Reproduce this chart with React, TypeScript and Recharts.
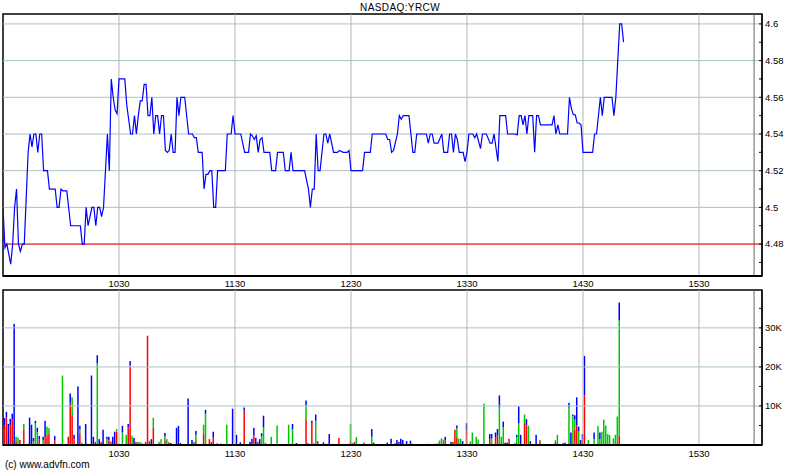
import {
  LineChart,
  Line,
  BarChart,
  Bar,
  XAxis,
  YAxis,
  ReferenceLine,
  ReferenceArea,
} from "recharts";

// x values are minutes after 09:30
const timeTicks = [60, 120, 180, 240, 300, 360];
const timeLabels = ["1030", "1130", "1230", "1330", "1430", "1530"];
const dayEnd = 388.5;
const xMax = 392.6;

const priceTicks = [4.47, 4.48, 4.49, 4.5, 4.51, 4.52, 4.53, 4.54, 4.55, 4.56, 4.57, 4.58, 4.59, 4.6];
const priceGrid = [4.48, 4.5, 4.52, 4.54, 4.56, 4.58, 4.6];
const prevClose = 4.48;

const priceTimes = [
  0, 1, 2, 4, 5, 6, 7, 8, 9, 10, 11, 13, 14, 15, 16, 17, 18, 19, 20, 21, 23, 24, 27, 28, 29, 30, 31, 33, 35, 40,
  41, 42, 43, 44, 46, 47, 48, 49, 50, 51, 52, 53, 54, 55, 56, 57, 58, 59, 60, 63, 64, 66, 67, 68, 69, 70, 71, 72,
  73, 74, 75, 76, 77, 78, 79, 80, 81, 82, 83, 84, 85, 86, 87, 88, 89, 90, 91, 92, 94, 96, 98, 99, 100, 101, 103,
  104, 105, 106, 107, 108, 109, 110, 111, 115, 116, 118, 119, 120, 123, 125, 127, 128, 129, 130, 131, 132, 133,
  134, 135, 138, 139, 141, 142, 145, 146, 148, 149, 150, 156, 158, 159, 160, 161, 162, 163, 164, 166, 167, 168,
  169, 171, 173, 174, 176, 178, 179, 180, 186, 187, 190, 191, 198, 199, 200, 201, 202, 204, 205, 206, 207, 210,
  211, 212, 213, 214, 219, 220, 221, 222, 223, 225, 227, 228, 230, 231, 232, 233, 234, 235, 236, 238, 239, 240,
  241, 243, 244, 245, 247, 248, 250, 252, 253, 254, 256, 257, 260, 261, 265, 266, 267, 268, 269, 270, 271, 272,
  274, 275, 276, 277, 278, 284, 285, 286, 287, 288, 292, 293, 294, 295, 296, 297, 298, 299, 300, 305, 306, 307,
  309, 310, 311, 315, 316, 317, 318, 319, 320, 321,
];
const priceValues = [
  4.5, 4.478, 4.48, 4.469, 4.48, 4.5, 4.51, 4.48, 4.476, 4.48, 4.48, 4.53, 4.54, 4.533, 4.54, 4.54, 4.53, 4.54,
  4.54, 4.52, 4.52, 4.51, 4.51, 4.5, 4.5, 4.51, 4.509, 4.509, 4.49, 4.49,
  4.48, 4.48, 4.5, 4.49, 4.5, 4.5, 4.49, 4.5, 4.5, 4.495, 4.5, 4.52, 4.54, 4.52, 4.57, 4.56, 4.553, 4.551, 4.57,
  4.57, 4.556, 4.54, 4.54, 4.55, 4.54, 4.55, 4.558, 4.558,
  4.567, 4.567, 4.55, 4.55, 4.56, 4.54, 4.55, 4.55, 4.54, 4.55, 4.55, 4.531, 4.53, 4.531, 4.54, 4.53, 4.53, 4.56,
  4.55, 4.56, 4.56, 4.54, 4.54, 4.538, 4.538, 4.53, 4.53,
  4.51, 4.518, 4.518, 4.52, 4.52, 4.5, 4.5, 4.52, 4.52, 4.54, 4.54, 4.55, 4.54, 4.54, 4.53, 4.53, 4.54, 4.539,
  4.537, 4.539, 4.53, 4.537,
  4.538, 4.53, 4.53, 4.52, 4.52, 4.53, 4.53, 4.52, 4.52, 4.53, 4.52, 4.52, 4.51, 4.5, 4.51, 4.51, 4.54, 4.52,
  4.52, 4.54, 4.54, 4.535,
  4.54, 4.53, 4.53, 4.531, 4.53, 4.53, 4.531, 4.52, 4.52, 4.53, 4.53, 4.54, 4.54, 4.537, 4.537, 4.53, 4.531, 4.54,
  4.55, 4.548, 4.55, 4.55,
  4.54, 4.53, 4.53, 4.54, 4.54, 4.535, 4.54, 4.54, 4.535, 4.535, 4.54, 4.53, 4.53, 4.54, 4.54, 4.53, 4.54, 4.537,
  4.53, 4.53, 4.525, 4.53,
  4.54, 4.54, 4.538, 4.54, 4.532, 4.54, 4.54, 4.535, 4.535, 4.54, 4.525, 4.55, 4.55, 4.54, 4.54, 4.5395, 4.55,
  4.55, 4.545, 4.55, 4.54, 4.55,
  4.55, 4.53, 4.55, 4.55, 4.545, 4.545, 4.55, 4.54, 4.545, 4.54, 4.54, 4.56, 4.554, 4.5505, 4.5505, 4.546, 4.546,
  4.545, 4.53, 4.53, 4.54, 4.54,
  4.56, 4.55, 4.56, 4.56, 4.55, 4.56, 4.58, 4.6, 4.6, 4.59,
];

// volume in thousands, split into red / green / blue parts
const volTicks = [5, 10, 15, 20, 25, 30, 35];
const volGrid = [10, 20, 30];
const volMax = 39.7;

const volTimes = [
  0, 1, 2, 3, 4, 5, 6, 7, 8, 9, 11, 13, 14, 15, 16, 17, 18, 19, 21, 22, 23, 24, 27, 29, 30, 31, 34, 35, 36, 37,
  39, 40, 41, 43, 44, 46, 47, 48, 49, 50, 51, 52, 54, 55, 56, 57, 58, 59, 60, 62, 64, 65, 66, 67, 68, 69, 70, 71,
  72, 73, 74, 75, 76, 77, 78, 81, 82, 84, 85, 86, 87, 90, 91, 92, 96, 98, 99, 100, 104, 105, 107, 108, 109, 111,
  113, 116, 119, 121, 123, 125, 128, 129, 130, 131, 132, 133, 134, 135, 136, 139, 140, 142, 146, 148, 150, 152,
  157, 158, 160, 161, 162, 163, 166, 168, 169, 171, 174, 179, 180, 181, 182, 183, 187, 191, 192, 199, 201, 203,
  204, 205, 206, 207, 209, 211, 212, 219, 220, 223, 224, 225, 226, 227, 228, 229, 232, 233, 234, 235, 236, 237,
  238, 240, 242, 243, 245, 246, 249, 252, 253, 255, 256, 257, 258, 259, 260, 261, 262, 265, 266, 267, 268, 269,
  270, 271, 272, 273, 276, 278, 286, 287, 288, 290, 291, 293, 294, 295, 296, 297, 298, 299, 300, 301, 303, 306,
  308, 309, 310, 311, 312, 313, 314, 316, 317, 318, 319,
];
const volRed = [
  0, 5, 7, 0, 5, 6.5, 0, 1, 0, 1.3, 4, 0.3, 0, 0, 0, 0, 0, 1.5, 0, 2, 2.5, 3, 1.2, 0, 0, 0, 2.1, 10.8, 7.7, 1.5,
  0, 3, 0, 0, 0, 0, 0, 0.8, 0, 0, 0.8, 0, 0, 1.2, 0.9, 0, 0, 3.4, 0, 0, 0, 4.5, 20.4, 0, 0, 0.8, 0, 0,
  0, 0, 0.8, 28, 0.8, 0, 4.5, 0, 0, 1.2, 0, 0.7, 0, 0, 0, 0, 0, 0, 0, 1, 3, 0, 1.5, 0.8, 2, 0,
  0, 0, 0, 0, 0, 8.8, 0, 0, 2.5, 0, 0.8, 0, 0, 0, 0, 0, 0, 0, 0, 0, 0, 0,
  6.6, 0.5, 5.5, 0.4, 0, 1, 0, 0, 0, 0, 1.8, 0.3, 1, 0, 0.8, 0, 0.6, 0, 0, 0, 0, 0,
  0, 0, 0, 0, 0, 0, 0, 0, 0, 0, 0, 0, 0, 0, 0, 1.2, 0, 0.8, 3.9, 2, 0, 0,
  0, 3.8, 0, 0, 0, 0, 0, 1.5, 0, 2, 2.5, 0, 0, 0, 0, 0, 1.6, 0, 0, 0, 0, 0,
  5.6, 5, 0, 0, 0, 1, 0.8, 0, 0.3, 0.5, 0, 0, 0, 0, 4, 5, 0, 0, 1.5, 12.7, 0, 0,
  0, 0, 0, 0, 0, 0, 0, 0, 0, 0, 2.4,
];
const volGreen = [
  4.2, 0, 0, 0, 0, 0, 0, 1.1, 1.9, 0, 1.4, 0, 0, 0, 1, 5.6, 3.2, 0, 1.3, 0, 2.2, 1.3, 0, 0.3, 0.3, 17.8, 0, 0, 4.5, 0,
  0, 1, 0.6, 0, 0, 0, 0, 0, 21, 0, 0, 0, 1.5, 0, 0, 0, 0, 0.7, 0.3, 3.2, 2.6, 0, 0, 2.4, 0, 0, 0.8, 0.8,
  0.5, 0.2, 0, 0, 0.3, 0, 2.5, 0.8, 1.5, 1, 1.5, 0, 0, 0, 0, 0, 0, 0, 0.8, 1.6, 2.2, 8, 0, 0, 0, 0,
  0.4, 5.2, 0, 0, 0, 0, 0, 0, 0, 0, 0, 0, 2.2, 4.5, 0.6, 2.1, 0.2, 5, 0.2, 5.2, 4, 0,
  3.5, 0, 0, 0, 6.2, 0, 0, 0, 0, 0, 0, 0, 4.4, 0, 0, 2, 0, 2.1, 0, 0, 0.3, 0,
  0, 0.3, 0, 0, 0, 0.3, 0.4, 0.3, 0.3, 0.3, 0.3, 0.4, 1, 1.7, 1.4, 0, 0, 0, 0, 2.3, 1.6, 1.6,
  0, 0, 0.9, 3.2, 2.1, 1.4, 10.6, 0, 1.8, 0, 0, 9.6, 2.1, 4.5, 0, 0, 0, 0, 2, 5.6, 0, 0,
  2.2, 0, 4.9, 0, 0, 0.3, 0.4, 2.6, 0, 0, 0, 9.6, 0, 7.4, 2.5, 0, 3.5, 0, 0, 0, 1.3, 1.5,
  4.9, 1.5, 3.4, 6.5, 5, 2.8, 2.6, 1.7, 2.6, 7.3, 29.5,
];
const volBlue = [
  0.7, 1.9, 1.5, 5.4, 1.7, 1.5, 31, 0, 0, 0, 0, 0, 7, 5.2, 0.8, 0.6, 1.2, 0.8, 0.8, 4.2, 0, 0, 1.1, 0, 0, 0, 0, 2.4, 0, 1.1,
  15, 0.9, 0, 5.4, 0.3, 17.8, 2.1, 0, 2, 1.5, 0, 3.9, 0.6, 0.9, 0, 2.1, 3.4, 0, 0, 1.7, 0, 0.9, 1.1, 0, 1.8, 0, 0, 0,
  0, 0, 0, 0, 0, 1.5, 0, 0, 0, 0.9, 0, 0, 0.5, 4.4, 4.9, 0.5, 11.9, 1.3, 0, 1, 0, 1, 0, 0, 1.4, 0.4,
  0, 0, 9.3, 2.6, 0.7, 0.8, 0.8, 1.6, 1.9, 1.8, 0, 1.5, 0.8, 3, 0, 0, 0, 0, 0, 0, 1.4, 0.5,
  1.3, 0, 0.7, 0, 1.6, 0, 0.7, 0.3, 2.8, 0.3, 0, 0, 0, 0.4, 0, 0, 0, 2, 0.6, 0.6, 1.3, 0.4,
  1.3, 0.5, 1.6, 1.3, 1, 0.8, 0, 0, 0, 0, 0, 0, 0.1, 0, 0, 0.9, 0.8, 0, 0, 0.7, 0, 0,
  1, 1.8, 0, 0, 0, 0, 0, 1.3, 1, 1.2, 1.6, 3.1, 0, 1.5, 0.6, 0.6, 0, 0.4, 0.6, 4.3, 2.6, 0.2,
  0, 1.6, 0, 1, 2.6, 0, 0, 0, 0, 0, 0.6, 1.2, 3.2, 0.4, 1.1, 7.2, 1.2, 1.3, 1.3, 10.1, 0, 1.7,
  0, 1.7, 0, 0, 0, 0, 0, 0, 0, 0, 4.6,
];

const priceData = priceTimes.map((t, i) => ({ t, p: priceValues[i] }));
const volData = volTimes.map((t, i) => ({ t, r: volRed[i], g: volGreen[i], b: volBlue[i] }));

const FONT = "'Liberation Sans', Arial, sans-serif";
const HGRID = "#a9c3c5";
const VGRID = "#b5b5b5";

const timeLabel = (v: number) => timeLabels[timeTicks.indexOf(v)] ?? "";

function RightTick(props: any) {
  const { x, y, payload, majors, fmt } = props;
  const v = payload.value;
  const major = majors.some((m: number) => Math.abs(m - v) < 1e-6);
  return (
    <g>
      <line x1={x - 3} x2={x + 1} y1={y} y2={y} stroke="#000" />
      {major && (
        <text x={x + 3} y={y} dy="0.35em" fontSize={9.5} fontFamily={FONT} fill="#000">
          {fmt(v)}
        </text>
      )}
    </g>
  );
}

// narrow bar centred on its minute
function ThinBar(props: any) {
  const { x, y, width, height, fill } = props;
  if (!height || height <= 0) return null;
  const w = 1.5;
  return <rect x={x + width / 2 - w / 2} y={y} width={w} height={height} fill={fill} />;
}

export default function App() {
  return (
    <div style={{ position: "absolute", left: 0, top: 0, width: 800, height: 475, background: "#fff", fontFamily: FONT }}>
      <div style={{ position: "absolute", top: 2, left: 0, width: 800, textAlign: "center", fontSize: 10, letterSpacing: 0.4 }}>
        NASDAQ:YRCW
      </div>

      <div style={{ position: "absolute", left: 0, top: 0 }}>
        <LineChart width={800} height={290} data={priceData} margin={{ top: 14, right: 0, bottom: 0, left: 3 }}>
          <XAxis
            dataKey="t"
            type="number"
            domain={[0, xMax]}
            ticks={timeTicks}
            tickFormatter={timeLabel}
            height={14}
            tickSize={0}
            tickMargin={4}
            axisLine={{ stroke: "#000", strokeWidth: 2 }}
            tick={{ fontSize: 9.5, fill: "#000", fontFamily: FONT }}
            allowDataOverflow
          />
          <YAxis
            orientation="right"
            type="number"
            domain={[4.4626, 4.6054]}
            ticks={priceTicks}
            width={38}
            tickSize={0}
            tickMargin={0}
            tickLine={false}
            axisLine={{ stroke: "#000" }}
            interval={0}
            allowDataOverflow
            tick={<RightTick majors={priceGrid} fmt={(v: number) => String(Number(v.toFixed(2)))} />}
          />
          {timeTicks.map((t) => (
            <ReferenceLine key={"v" + t} x={t} stroke={VGRID} />
          ))}
          {priceGrid.map((g) => (
            <ReferenceLine key={"h" + g} y={g} stroke={HGRID} />
          ))}
          <ReferenceLine x={dayEnd} stroke="#666" />
          <ReferenceLine y={prevClose} stroke="#ff0000" />
          <ReferenceArea x1={0} x2={xMax} y1={4.4626} y2={4.6054} fill="none" stroke="#000" strokeWidth={1.5} />
          <Line
            dataKey="p"
            type="linear"
            stroke="#0000ff"
            strokeWidth={1.2}
            dot={false}
            isAnimationActive={false}
          />
        </LineChart>
      </div>

      <div style={{ position: "absolute", left: 0, top: 280 }}>
        <BarChart width={800} height={185} data={volData} margin={{ top: 10, right: 0, bottom: 0, left: 3 }} barGap={0}>
          <XAxis
            dataKey="t"
            type="number"
            domain={[0, xMax]}
            ticks={timeTicks}
            tickFormatter={timeLabel}
            height={20}
            tickSize={0}
            tickMargin={5}
            axisLine={{ stroke: "#000", strokeWidth: 2 }}
            tick={{ fontSize: 9.5, fill: "#000", fontFamily: FONT }}
            allowDataOverflow
          />
          <YAxis
            orientation="right"
            type="number"
            domain={[0, volMax]}
            ticks={volTicks}
            width={38}
            tickSize={0}
            tickMargin={0}
            tickLine={false}
            axisLine={{ stroke: "#000" }}
            interval={0}
            allowDataOverflow
            tick={<RightTick majors={volGrid} fmt={(v: number) => v + "K"} />}
          />
          {timeTicks.map((t) => (
            <ReferenceLine key={"v" + t} x={t} stroke={VGRID} />
          ))}
          {volGrid.map((g) => (
            <ReferenceLine key={"h" + g} y={g} stroke={HGRID} />
          ))}
          <ReferenceLine x={dayEnd} stroke="#666" />
          <ReferenceArea x1={0} x2={xMax} y1={0} y2={volMax} fill="none" stroke="#000" strokeWidth={1.5} />
          <Bar dataKey="r" stackId="v" fill="#ff0000" barSize={1} shape={<ThinBar />} isAnimationActive={false} />
          <Bar dataKey="g" stackId="v" fill="#00c800" barSize={1} shape={<ThinBar />} isAnimationActive={false} />
          <Bar dataKey="b" stackId="v" fill="#0000ff" barSize={1} shape={<ThinBar />} isAnimationActive={false} />
        </BarChart>
      </div>

      <div style={{ position: "absolute", left: 5, top: 459, fontSize: 10 }}>(c) www.advfn.com</div>
    </div>
  );
}
